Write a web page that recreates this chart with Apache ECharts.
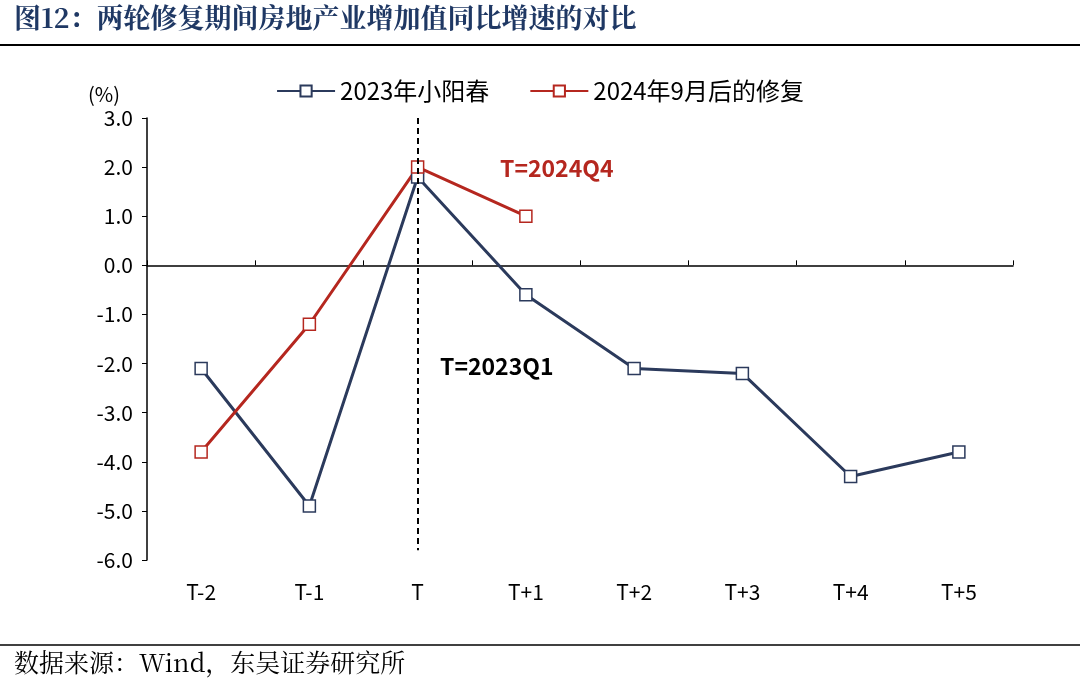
<!DOCTYPE html>
<html><head><meta charset="utf-8">
<script src="https://cdn.jsdelivr.net/npm/echarts@6/dist/echarts.min.js"></script>
<style>body{margin:0;background:#fff}#chart{width:1080px;height:687px}</style>
</head><body><div id="chart"></div>
<script>
const categories = ['T-2','T-1','T','T+1','T+2','T+3','T+4','T+5'];
const series2023 = [-2.1,-4.9,1.8,-0.6,-2.1,-2.2,-4.3,-3.8];
const series2024 = [-3.8,-1.2,2.0,1.0];
const names = ['2023年小阳春','2024年9月后的修复'];
const blue = '#2b3a5c', red = '#b5271f';
const font = '"Noto Sans CJK SC", "Noto Sans", sans-serif';

const chart = echarts.init(document.getElementById('chart'));
chart.setOption({
  animation: false,
  textStyle: { fontFamily: font },
  grid: { left: 147, right: 67, top: 118, bottom: 127 },
  legend: {
    top: 74, left: 'center', itemGap: 40, itemWidth: 58, itemHeight: 14,
    textStyle: { fontSize: 24, color: '#000', fontFamily: font },
    data: names
  },
  graphic: [
    { type: 'text', left: 14, top: 4, style: { text: '图12：两轮修复期间房地产业增加值同比增速的对比', font: 'bold 27px "Noto Serif CJK SC", "Noto Sans CJK SC", serif', fill: '#1f3864' } },
    { type: 'line', shape: { x1: 0, y1: 45, x2: 1080, y2: 45 }, style: { stroke: '#000', lineWidth: 2 } },
    { type: 'line', shape: { x1: 0, y1: 645, x2: 1080, y2: 645 }, style: { stroke: '#000', lineWidth: 1.5 } },
    { type: 'text', left: 14, top: 650, style: { text: '数据来源：Wind，东吴证券研究所', font: '25px "Noto Serif CJK SC", "Noto Sans CJK SC", serif', fill: '#000' } },
    { type: 'text', left: 88, top: 84, style: { text: '(%)', font: '20px ' + font, fill: '#000' } },
    { type: 'text', left: 500, top: 157, style: { text: 'T=2024Q4', font: 'bold 23px ' + font, fill: red } },
    { type: 'text', left: 440, top: 355, style: { text: 'T=2023Q1', font: 'bold 23px ' + font, fill: '#000' } }
  ],
  xAxis: [
    { type: 'category', data: categories, boundaryGap: true,
      axisLine: { onZero: true, lineStyle: { color: '#000', width: 1.5 } },
      axisTick: { show: true, inside: true, length: 5, lineStyle: { color: '#000' } },
      axisLabel: { show: false } },
    { type: 'category', data: categories, position: 'bottom', boundaryGap: true,
      axisLine: { show: false }, axisTick: { show: false },
      axisLabel: { fontSize: 21, color: '#000', margin: 22 } }
  ],
  yAxis: {
    type: 'value', min: -6, max: 3, interval: 1,
    splitLine: { show: false },
    axisLine: { show: true, lineStyle: { color: '#000', width: 1.5 } },
    axisTick: { show: true, length: 5, lineStyle: { color: '#000' } },
    axisLabel: { fontSize: 21, color: '#000', margin: 14, formatter: v => v.toFixed(1) }
  },
  series: [
    { name: names[0], type: 'line', data: series2023, symbol: 'rect', symbolSize: 12,
      lineStyle: { color: blue, width: 3 }, itemStyle: { color: '#fff', borderColor: blue, borderWidth: 1.5 },
      markLine: { silent: true, symbol: 'none', label: { show: false },
        lineStyle: { color: '#000', type: [6, 4], width: 2 },
        data: [[{ xAxis: 'T', yAxis: 3 }, { xAxis: 'T', yAxis: -5.8 }]] } },
    { name: names[1], type: 'line', data: series2024, symbol: 'rect', symbolSize: 12,
      lineStyle: { color: red, width: 3 }, itemStyle: { color: '#fff', borderColor: red, borderWidth: 1.5 } }
  ]
});
</script></body></html>
